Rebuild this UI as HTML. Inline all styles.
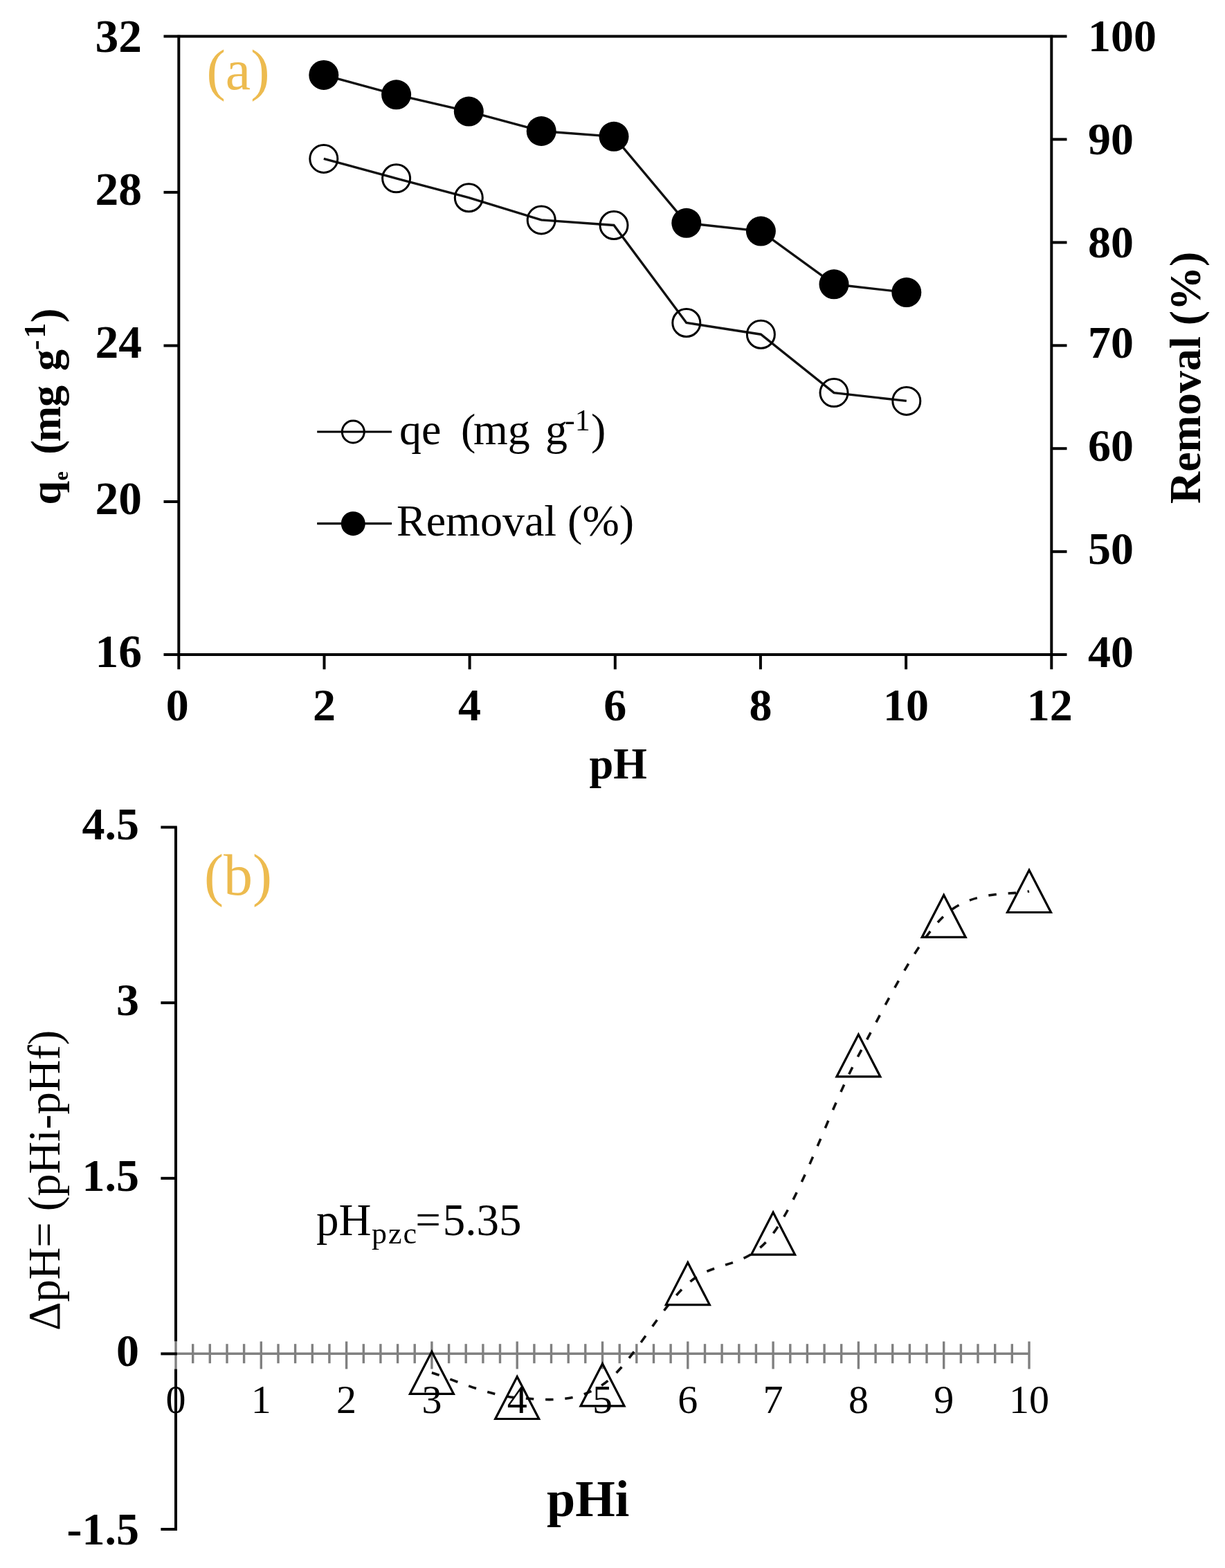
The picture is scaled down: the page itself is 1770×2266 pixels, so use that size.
<!DOCTYPE html>
<html><head><meta charset="utf-8"><title>pH effect</title>
<style>html,body{margin:0;padding:0;background:#fff;} svg{display:block;}</style></head>
<body>
<svg width="1770" height="2266" viewBox="0 0 1770 2266">
<rect width="1770" height="2266" fill="#fff"/>
<g font-family='"Liberation Serif", "Times New Roman", serif' font-weight="bold" font-size="66" fill="#000">
<text x="205" y="74.6" text-anchor="end" font-size="67.5">32</text>
<text x="205" y="295.5" text-anchor="end" font-size="67.5">28</text>
<text x="205" y="516.8" text-anchor="end" font-size="67.5">24</text>
<text x="205" y="742.6" text-anchor="end" font-size="67.5">20</text>
<text x="205" y="963.7" text-anchor="end" font-size="67.5">16</text>
<text x="1572" y="74.4">100</text>
<text x="1572" y="223.1">90</text>
<text x="1572" y="372.4">80</text>
<text x="1572" y="517.4">70</text>
<text x="1572" y="666.2">60</text>
<text x="1572" y="815.0">50</text>
<text x="1572" y="963.6">40</text>
<text x="256.3" y="1040.8" text-anchor="middle">0</text>
<text x="468.5" y="1040.8" text-anchor="middle">2</text>
<text x="678.6" y="1040.8" text-anchor="middle">4</text>
<text x="888.8" y="1040.8" text-anchor="middle">6</text>
<text x="1098.9" y="1040.8" text-anchor="middle">8</text>
<text x="1309.1" y="1040.8" text-anchor="middle">10</text>
<text x="1516.8" y="1040.8" text-anchor="middle">12</text>
</g>
<g stroke="#000" stroke-width="4.0" fill="none">
<line x1="236.5" y1="52.6" x2="1541.5" y2="52.6"/>
<line x1="236.5" y1="946.1" x2="1541.5" y2="946.1"/>
<line x1="258.3" y1="50.8" x2="258.3" y2="967.3"/>
<line x1="1519.3" y1="50.8" x2="1519.3" y2="967.3"/>
<line x1="236.5" y1="277.9" x2="258.3" y2="277.9"/>
<line x1="236.5" y1="499.5" x2="258.3" y2="499.5"/>
<line x1="236.5" y1="725.0" x2="258.3" y2="725.0"/>
<line x1="1519.3" y1="201.4" x2="1541.5" y2="201.4"/>
<line x1="1519.3" y1="350.4" x2="1541.5" y2="350.4"/>
<line x1="1519.3" y1="499.3" x2="1541.5" y2="499.3"/>
<line x1="1519.3" y1="648.2" x2="1541.5" y2="648.2"/>
<line x1="1519.3" y1="797.2" x2="1541.5" y2="797.2"/>
<line x1="468.5" y1="946.1" x2="468.5" y2="967.3"/>
<line x1="678.6" y1="946.1" x2="678.6" y2="967.3"/>
<line x1="888.8" y1="946.1" x2="888.8" y2="967.3"/>
<line x1="1098.9" y1="946.1" x2="1098.9" y2="967.3"/>
<line x1="1309.1" y1="946.1" x2="1309.1" y2="967.3"/>
</g>
<g stroke="#111" stroke-width="3.4" fill="none">
<polyline points="467.8,108.4 572.6,136.8 677.3,161.1 782.2,189.5 887.0,197.3 991.8,322.3 1099.4,334.1 1205.0,410.8 1309.8,422.6"/>
<polyline points="467.8,229.4 572.6,257.8 677.3,285.7 782.2,317.9 887.0,325.5 991.8,466.5 1099.4,483.2 1205.0,567.6 1309.8,579.4"/>
</g>
<g fill="#000">
<circle cx="467.8" cy="108.4" r="21.5"/>
<circle cx="572.6" cy="136.8" r="21.5"/>
<circle cx="677.3" cy="161.1" r="21.5"/>
<circle cx="782.2" cy="189.5" r="21.5"/>
<circle cx="887.0" cy="197.3" r="21.5"/>
<circle cx="991.8" cy="322.3" r="21.5"/>
<circle cx="1099.4" cy="334.1" r="21.5"/>
<circle cx="1205.0" cy="410.8" r="21.5"/>
<circle cx="1309.8" cy="422.6" r="21.5"/>
</g>
<g fill="none" stroke="#000" stroke-width="3">
<circle cx="467.8" cy="229.4" r="20"/>
<circle cx="572.6" cy="257.8" r="20"/>
<circle cx="677.3" cy="285.7" r="20"/>
<circle cx="782.2" cy="317.9" r="20"/>
<circle cx="887.0" cy="325.5" r="20"/>
<circle cx="991.8" cy="466.5" r="20"/>
<circle cx="1099.4" cy="483.2" r="20"/>
<circle cx="1205.0" cy="567.6" r="20"/>
<circle cx="1309.8" cy="579.4" r="20"/>
</g>
<text x="298.5" y="129" font-family='"Liberation Serif", "Times New Roman", serif' font-size="82" fill="#EDBB4F">(a)</text>
<g stroke="#000" stroke-width="3.2">
<line x1="458.2" y1="624" x2="566" y2="624"/><line x1="458.2" y1="756.7" x2="566" y2="756.7"/>
</g>
<circle cx="510.3" cy="624" r="16" fill="none" stroke="#000" stroke-width="3"/>
<circle cx="510.3" cy="756.7" r="17.5" fill="#000"/>
<g font-family='"Liberation Serif", "Times New Roman", serif' font-size="64" fill="#000">
<text x="577" y="641.5">qe</text>
<text x="666" y="641.5">(</text>
<text x="684" y="641.5">mg</text>
<text x="788" y="641.5">g</text>
<text x="816" y="622" font-size="44">-1</text>
<text x="854" y="641.5">)</text>
<text x="573" y="774">Removal (%)</text>
</g>
<text x="851.5" y="1124.8" font-family='"Liberation Serif", "Times New Roman", serif' font-weight="bold" font-size="62.5">pH</text>
<g font-family='"Liberation Serif", "Times New Roman", serif' font-weight="bold" font-size="62" fill="#000">
<text transform="translate(86.8 728) rotate(-90)"><tspan x="-1.4" y="0">q</tspan><tspan font-size="30" x="33.5" y="11">e</tspan><tspan x="71.3" y="0">(</tspan><tspan x="89.6" y="0">m</tspan><tspan x="140.1" y="0">g</tspan><tspan x="192.1" y="0">g</tspan><tspan font-size="44" x="222.1" y="-22">-</tspan><tspan font-size="44" x="239.3" y="-22">1</tspan><tspan x="261.8" y="0">)</tspan></text>
</g>
<text transform="translate(1734.3 728) rotate(-90)" font-family='"Liberation Serif", "Times New Roman", serif' font-weight="bold" font-size="64">Removal (%)</text>
<g font-family='"Liberation Serif", "Times New Roman", serif' font-size="58" fill="#000" text-anchor="middle">
<text x="254.0" y="2042.3">0</text>
<text x="377.3" y="2042.3">1</text>
<text x="500.6" y="2042.3">2</text>
<text x="623.9" y="2042.3">3</text>
<text x="747.2" y="2042.3">4</text>
<text x="870.5" y="2042.3">5</text>
<text x="993.8" y="2042.3">6</text>
<text x="1117.1" y="2042.3">7</text>
<text x="1240.4" y="2042.3">8</text>
<text x="1363.7" y="2042.3">9</text>
<text x="1487.0" y="2042.3">10</text>
</g>
<g font-family='"Liberation Serif", "Times New Roman", serif' font-weight="bold" font-size="66" fill="#000" text-anchor="end">
<text x="201" y="1212.6">4.5</text>
<text x="201" y="1466.8">3</text>
<text x="201" y="1720.6">1.5</text>
<text x="201" y="1973.7">0</text>
<text x="201" y="2231.8">-1.5</text>
</g>
<g stroke="#808080" stroke-width="3.4">
<line x1="254" y1="1956.2" x2="1487.0" y2="1956.2"/>
<line x1="254.0" y1="1938.6" x2="254.0" y2="1978.4"/>
<line x1="278.7" y1="1942.2" x2="278.7" y2="1970.2"/>
<line x1="303.3" y1="1942.2" x2="303.3" y2="1970.2"/>
<line x1="328.0" y1="1942.2" x2="328.0" y2="1970.2"/>
<line x1="352.6" y1="1942.2" x2="352.6" y2="1970.2"/>
<line x1="377.3" y1="1938.6" x2="377.3" y2="1978.4"/>
<line x1="402.0" y1="1942.2" x2="402.0" y2="1970.2"/>
<line x1="426.6" y1="1942.2" x2="426.6" y2="1970.2"/>
<line x1="451.3" y1="1942.2" x2="451.3" y2="1970.2"/>
<line x1="475.9" y1="1942.2" x2="475.9" y2="1970.2"/>
<line x1="500.6" y1="1938.6" x2="500.6" y2="1978.4"/>
<line x1="525.3" y1="1942.2" x2="525.3" y2="1970.2"/>
<line x1="549.9" y1="1942.2" x2="549.9" y2="1970.2"/>
<line x1="574.6" y1="1942.2" x2="574.6" y2="1970.2"/>
<line x1="599.2" y1="1942.2" x2="599.2" y2="1970.2"/>
<line x1="623.9" y1="1938.6" x2="623.9" y2="1978.4"/>
<line x1="648.6" y1="1942.2" x2="648.6" y2="1970.2"/>
<line x1="673.2" y1="1942.2" x2="673.2" y2="1970.2"/>
<line x1="697.9" y1="1942.2" x2="697.9" y2="1970.2"/>
<line x1="722.5" y1="1942.2" x2="722.5" y2="1970.2"/>
<line x1="747.2" y1="1938.6" x2="747.2" y2="1978.4"/>
<line x1="771.9" y1="1942.2" x2="771.9" y2="1970.2"/>
<line x1="796.5" y1="1942.2" x2="796.5" y2="1970.2"/>
<line x1="821.2" y1="1942.2" x2="821.2" y2="1970.2"/>
<line x1="845.8" y1="1942.2" x2="845.8" y2="1970.2"/>
<line x1="870.5" y1="1938.6" x2="870.5" y2="1978.4"/>
<line x1="895.2" y1="1942.2" x2="895.2" y2="1970.2"/>
<line x1="919.8" y1="1942.2" x2="919.8" y2="1970.2"/>
<line x1="944.5" y1="1942.2" x2="944.5" y2="1970.2"/>
<line x1="969.1" y1="1942.2" x2="969.1" y2="1970.2"/>
<line x1="993.8" y1="1938.6" x2="993.8" y2="1978.4"/>
<line x1="1018.5" y1="1942.2" x2="1018.5" y2="1970.2"/>
<line x1="1043.1" y1="1942.2" x2="1043.1" y2="1970.2"/>
<line x1="1067.8" y1="1942.2" x2="1067.8" y2="1970.2"/>
<line x1="1092.4" y1="1942.2" x2="1092.4" y2="1970.2"/>
<line x1="1117.1" y1="1938.6" x2="1117.1" y2="1978.4"/>
<line x1="1141.8" y1="1942.2" x2="1141.8" y2="1970.2"/>
<line x1="1166.4" y1="1942.2" x2="1166.4" y2="1970.2"/>
<line x1="1191.1" y1="1942.2" x2="1191.1" y2="1970.2"/>
<line x1="1215.7" y1="1942.2" x2="1215.7" y2="1970.2"/>
<line x1="1240.4" y1="1938.6" x2="1240.4" y2="1978.4"/>
<line x1="1265.1" y1="1942.2" x2="1265.1" y2="1970.2"/>
<line x1="1289.7" y1="1942.2" x2="1289.7" y2="1970.2"/>
<line x1="1314.4" y1="1942.2" x2="1314.4" y2="1970.2"/>
<line x1="1339.0" y1="1942.2" x2="1339.0" y2="1970.2"/>
<line x1="1363.7" y1="1938.6" x2="1363.7" y2="1978.4"/>
<line x1="1388.4" y1="1942.2" x2="1388.4" y2="1970.2"/>
<line x1="1413.0" y1="1942.2" x2="1413.0" y2="1970.2"/>
<line x1="1437.7" y1="1942.2" x2="1437.7" y2="1970.2"/>
<line x1="1462.3" y1="1942.2" x2="1462.3" y2="1970.2"/>
<line x1="1487.0" y1="1938.6" x2="1487.0" y2="1978.4"/>
</g>
<g stroke="#000" stroke-width="4.0">
<line x1="254" y1="1195.5" x2="254" y2="1938.6"/>
<line x1="254" y1="1978.4" x2="254" y2="2211.8"/>
<line x1="232.4" y1="1195.5" x2="255.8" y2="1195.5"/>
<line x1="232.4" y1="1449.2" x2="255.8" y2="1449.2"/>
<line x1="232.4" y1="1702.8" x2="255.8" y2="1702.8"/>
<line x1="232.4" y1="1956.4" x2="255.8" y2="1956.4"/>
<line x1="232.4" y1="2210.0" x2="255.8" y2="2210.0"/>
</g>
<path d="M623.9,1983.8 C644.5,1989.8 706.1,2017.1 747.2,2020.0 C788.3,2022.9 829.4,2028.8 870.5,2001.3 C911.6,1973.8 952.7,1891.5 993.8,1855.1 C1034.9,1818.6 1076.0,1837.5 1117.1,1782.6 C1158.2,1727.6 1199.3,1601.9 1240.4,1525.4 C1281.5,1449.0 1322.6,1363.5 1363.7,1323.9 C1404.8,1284.3 1466.5,1294.0 1487.0,1288.0" fill="none" stroke="#111" stroke-width="3.6" stroke-dasharray="11.5 16.8"/>
<g fill="none" stroke="#000" stroke-width="3.2" stroke-linejoin="miter">
<path d="M623.9,1953.3 L655.4,2014.3 L592.4,2014.3 Z"/>
<path d="M747.2,1989.5 L778.7,2050.5 L715.7,2050.5 Z"/>
<path d="M870.5,1970.8 L902.0,2031.8 L839.0,2031.8 Z"/>
<path d="M993.8,1824.6 L1025.3,1885.6 L962.3,1885.6 Z"/>
<path d="M1117.1,1752.1 L1148.6,1813.1 L1085.6,1813.1 Z"/>
<path d="M1240.4,1494.9 L1271.9,1555.9 L1208.9,1555.9 Z"/>
<path d="M1363.7,1293.4 L1395.2,1354.4 L1332.2,1354.4 Z"/>
<path d="M1487.0,1257.5 L1518.5,1318.5 L1455.5,1318.5 Z"/>
</g>
<text x="295" y="1292.5" font-family='"Liberation Serif", "Times New Roman", serif' font-size="84" fill="#EDBB4F">(b)</text>
<text x="457" y="1784.6" font-family='"Liberation Serif", "Times New Roman", serif' font-size="65" fill="#000">pH<tspan font-size="44" letter-spacing="2" x="537" y="1797.4">pzc</tspan><tspan x="600.2" y="1784.6">=</tspan><tspan x="639.7" y="1784.6">5.35</tspan></text>
<text x="790" y="2190.9" font-family='"Liberation Serif", "Times New Roman", serif' font-weight="bold" font-size="74">pHi</text>
<text transform="translate(86.2 1923) rotate(-90)" font-family='"Liberation Serif", "Times New Roman", serif' font-size="64.5">ΔpH= (pHi-pHf)</text>
</svg>
</body></html>
